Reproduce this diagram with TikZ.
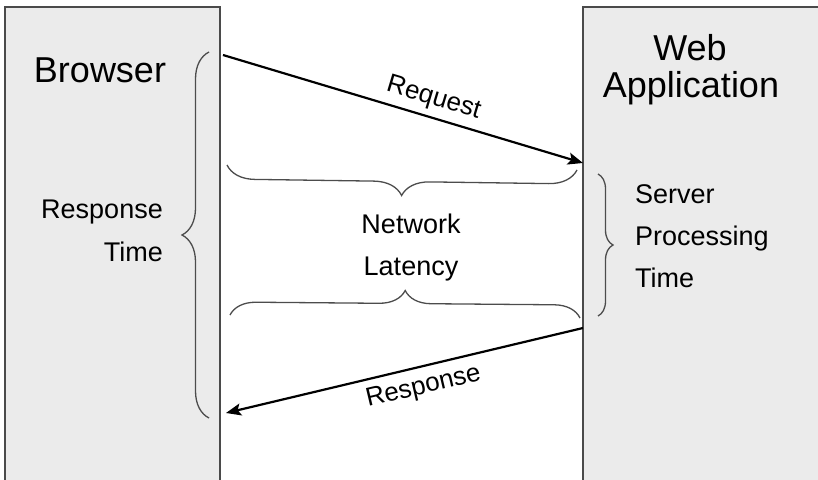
\documentclass[tikz,border=0pt]{standalone}
\usepackage{fontspec}
\setmainfont{Liberation Sans}
\usetikzlibrary{arrows.meta,decorations.pathreplacing}
\definecolor{panelfill}{HTML}{EBEBEB}
\definecolor{panelline}{HTML}{4A4A4A}
\definecolor{bracecol}{HTML}{4C4C4C}
\tikzset{
  panel/.style={draw=panelline, fill=panelfill, line width=1.4pt},
  title/.style={font=\fontsize{36}{40}\selectfont, inner sep=0pt, anchor=base},
  lbl/.style={font=\fontsize{27}{30}\selectfont, inner sep=0pt, anchor=base},
  msglbl/.style={sloped, font=\fontsize{26}{30}\selectfont, inner sep=0pt},
  msg/.style={draw=black, line width=2.2pt, -{Stealth[length=15pt,width=12pt,inset=3pt]}},
  curly/.style={draw=bracecol, line width=1.3pt, decorate,
    decoration={brace, amplitude=#1}},
}
\begin{document}
\begin{tikzpicture}[x=1pt, y=-1pt]
  \useasboundingbox (0,0) rectangle (818,479);
  \begin{scope}
    \clip (0,0) rectangle (818,479);
    % the two panels run past the lower and right edges
    \draw[panel] (5,7) rectangle (220,500);
    \draw[panel] (583,7) rectangle (840,500);
  \end{scope}

  % panel titles
  \node[title] (browser) at (100,82) {Browser};
  \node[title] (web) at (690,60) {Web};
  \node[title] (app) at (691,97) {Application};

  % message end points on the panel edges
  \coordinate (reqS) at (223,55);
  \coordinate (reqE) at (583,163);
  \coordinate (resS) at (583,328);
  \coordinate (resE) at (226,413);

  \draw[msg] (reqS) -- node[msglbl, above=6pt, pos=0.57] (reqlbl) {Request} (reqE);
  \draw[msg] (resS) -- node[msglbl, below=8pt, pos=0.46] (reslbl) {Response} (resE);

  % braces
  \coordinate (rtB) at (209,418);
  \coordinate (rtT) at (209,52);
  \draw[curly=27pt] (rtB) -- (rtT);
  \coordinate (nlTR) at (577,170);
  \coordinate (nlTL) at (227,165);
  \draw[curly=28pt] (nlTR) -- (nlTL);
  \coordinate (nlBL) at (230,315);
  \coordinate (nlBR) at (580,318);
  \draw[curly=26pt] (nlBL) -- (nlBR);
  \coordinate (spT) at (598,174);
  \coordinate (spB) at (598,316);
  \draw[curly=15pt] (spT) -- (spB);

  % brace labels
  \node[lbl, anchor=base east] (rt1) at (163,218) {Response};
  \node[lbl, anchor=base east] (rt2) at (163,261) {Time};
  \node[lbl] (nl1) at (411,233) {Network};
  \node[lbl] (nl2) at (411,275) {Latency};
  \node[lbl, anchor=base west] (sp1) at (635,203) {Server};
  \node[lbl, anchor=base west] (sp2) at (635,245) {Processing};
  \node[lbl, anchor=base west] (sp3) at (635,287) {Time};
\end{tikzpicture}
\end{document}
